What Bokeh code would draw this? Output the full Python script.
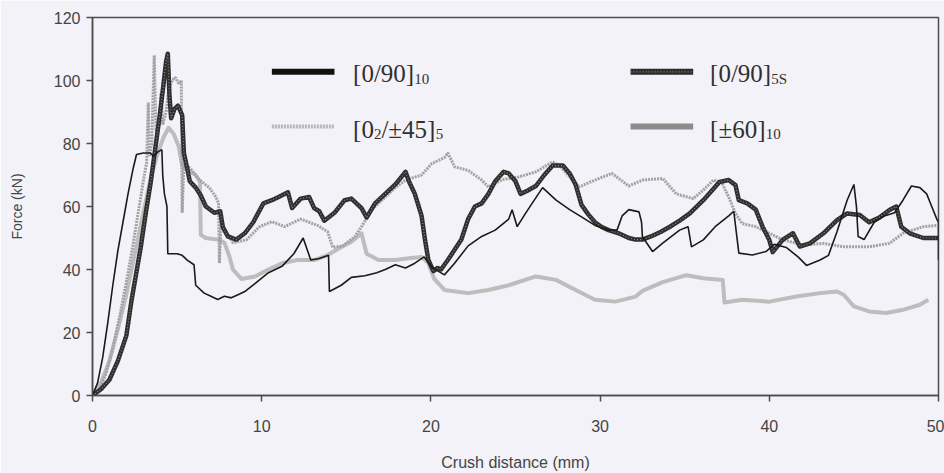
from bokeh.plotting import figure
from bokeh.models import Range1d, Label, FixedTicker
from bokeh.embed import file_html
from bokeh.resources import INLINE

# ---- crush test data: crush distance (mm) vs force (kN) ----
# [0/90]10
x_a = [0, 0.3, 0.6, 0.9, 1.2, 1.5, 1.8, 2.1, 2.4, 2.6, 3.0, 3.4, 3.6, 3.9, 4.1, 4.15, 4.25,
       4.4, 4.45, 5.0, 5.3, 5.6, 6.0, 6.1, 6.6, 7.0, 7.4, 7.8, 8.2, 8.6, 9.0, 9.6, 10.4, 11.2,
       11.9, 12.45, 12.9, 13.4, 13.95, 14.0, 14.7, 15.3, 16.1, 16.8, 17.3, 17.9, 18.5, 19.05,
       19.6, 20.1, 20.8, 21.4, 22.2, 23.0, 23.8, 24.6, 24.8, 25.1, 25.6, 26.6, 27.4, 28.2,
       28.9, 29.7, 30.5, 31.0, 31.3, 31.7, 32.3, 32.45, 32.5, 33.1, 33.7, 34.7, 35.2, 35.4,
       36.1, 36.8, 37.6, 37.9, 38.2, 39.0, 39.8, 40.3, 41.0, 41.7, 42.2, 43.0, 43.5, 44.0,
       44.6, 45.0, 45.15, 45.25, 45.6, 46.2, 46.8, 47.4, 47.9, 48.4, 48.9, 49.3, 49.6, 49.9,
       50.0, 50.0]
f_a = [0, 4, 12, 23, 35, 46, 55, 64, 72, 76.5, 77, 77, 76, 77.5, 78, 70, 64,
       60, 45, 45, 44.5, 43, 41.5, 35, 32.5, 31.5, 30.5, 31.5, 31, 32, 33, 35.5, 39, 41,
       45, 50, 43, 43.5, 44.5, 33, 35, 37.5, 38, 39, 40, 41.5, 40.5, 42,
       44, 40.5, 38.3, 42, 47.5, 50.5, 52.5, 56, 59, 53.6, 57.9, 66, 62, 59,
       56.7, 54, 52.5, 52.5, 57, 59, 58.3, 55, 50.4, 45.7, 48.4, 52.5, 53.6, 47.2,
       49.4, 53.6, 57, 58.5, 45.2, 44.6, 45.7, 48, 47, 44, 41.3, 43, 44.5, 52,
       62, 67, 60, 50.5, 49.5, 55, 57, 58, 62, 66.5, 66, 64, 60, 56,
       55, 43]

# [0/90]5S
x_b = [0, 0.5, 1.0, 1.5, 2.0, 2.3, 2.85, 3.15, 3.45, 3.75, 4.0, 4.2, 4.35, 4.45, 4.55, 4.65,
       4.85, 5.05, 5.3, 5.4, 5.6, 5.75, 6.1, 6.4, 6.7, 7.2, 7.55, 7.7, 8.0, 8.5, 9.0, 9.5,
       10.1, 10.6, 11.0, 11.55, 11.8, 12.3, 12.8, 13.1, 13.4, 13.7, 14.3, 14.9, 15.3, 15.9,
       16.2, 16.7, 17.3, 17.9, 18.5, 18.7, 19.05, 19.45, 19.65, 19.85, 20.15, 20.4, 20.6,
       21.0, 21.8, 22.2, 22.6, 23.0, 23.4, 23.8, 24.3, 24.6, 25.0, 25.3, 25.7, 26.2, 26.7,
       27.2, 27.8, 28.2, 28.55, 28.9, 29.3, 29.7, 30.1, 30.5, 31.1, 31.7, 32.1, 32.5, 33.0,
       33.6, 34.1, 34.7, 35.3, 36.1, 36.6, 37.05, 37.6, 38.0, 38.2, 38.7, 39.2, 39.6, 40.0,
       40.2, 40.5, 40.8, 41.4, 41.8, 42.4, 43.2, 44.0, 44.6, 45.35, 45.9, 46.5, 47.1, 47.5,
       47.8, 48.3, 49.1, 50.0]
f_b = [0, 2, 5, 11, 19, 30, 47, 58, 68, 80, 90, 99, 106, 108.5, 95, 88,
       91, 92, 89, 77, 72, 68, 66, 63.5, 60, 58, 58.5, 53.5, 50.5, 49.5, 51.5, 55,
       61, 62, 63, 64.5, 59.5, 62.5, 63, 59.5, 58.5, 55.5, 58, 62, 62.5, 59.5,
       56.5, 61, 64, 67, 71, 68, 64, 57, 49.5, 43, 39.5, 40.5, 40,
       43, 49.5, 56, 60, 61, 64, 68, 71, 70.5, 68, 64, 65, 66.5, 70,
       73, 73, 70.5, 67, 60.5, 57.5, 55, 53.5, 52.5, 51.5, 50, 49.5, 49.5, 50.5,
       52, 53.5, 55.5, 57.8, 62, 65, 67.8, 68.4, 66.8, 62, 61, 59, 53.6, 49.4,
       45.5, 47.5, 49.5, 51.5, 47.3, 48.3, 51.5, 55.7, 57.8, 57.3, 55, 56.5, 58.9, 60,
       53.6, 51.5, 50, 50]

# [0_2/±45]5
x_c = [0, 0.4, 0.8, 1.2, 1.6, 2.0, 2.4, 2.7, 3.0, 3.2, 3.3, 3.35, 3.5, 3.65, 3.75, 3.95,
       4.05, 4.15, 4.35, 4.5, 4.7, 4.9, 5.1, 5.25, 5.3, 5.4, 5.8, 6.2, 6.9, 7.3, 7.45, 7.5,
       7.6, 7.9, 8.3, 9.1, 9.85, 10.6, 11.35, 12.3, 13.3, 13.9, 14.2, 14.8, 15.5, 15.9,
       16.5, 17.3, 17.9, 18.5, 19.45, 20.05, 20.8, 21.0, 21.4, 22.2, 23.0, 23.4, 24.2,
       25.2, 26.2, 27.2, 27.6, 28.75, 29.7, 30.7, 31.7, 32.5, 33.7, 34.5, 35.5, 36.1, 36.7,
       37.2, 37.6, 38.0, 38.4, 39.2, 40.0, 40.8, 42.0, 43.2, 44.4, 45.9, 47.1, 47.9, 49.1,
       49.9]
f_c = [0, 2, 7, 15, 25, 36, 48, 58, 68, 74, 93, 76, 80, 108, 84, 86,
       96, 86, 90, 97, 100, 101, 99, 100, 58, 74, 72, 69, 66, 63, 61, 42,
       55, 52, 48.5, 49.4, 53.5, 55.2, 53.6, 56, 54, 52, 47, 47.5, 50.4, 53.6,
       59, 63, 66, 68.4, 70, 73.6, 75.5, 77, 72.6, 71.5, 68.4, 66.2, 68.5,
       69.4, 71, 74.2, 73, 66.2, 68.4, 70.5, 66.5, 68.4, 68.9, 64, 62.5, 65.2, 68.4,
       67.5, 63, 57.8, 54.6, 53.6, 51.5, 49.4, 47.8, 48.3, 47.2, 47.2, 48.3, 51.5, 53.6,
       54]

# [±60]10
x_d = [0, 0.5, 1.0, 1.5, 2.0, 2.5, 3.0, 3.4, 3.8, 4.2, 4.5, 4.8, 5.1, 5.3, 5.8, 6.1,
       6.35, 6.4, 6.7, 7.5, 7.8, 8.1, 8.3, 8.8, 9.6, 10.4, 11.2, 12.1, 13.1, 13.9, 14.5,
       15.3, 15.9, 16.2, 16.9, 17.9, 18.7, 19.45, 19.85, 20.2, 20.8, 22.2, 23.4, 24.6,
       26.2, 27.4, 28.55, 29.7, 30.9, 32.1, 32.5, 33.7, 35.1, 36.1, 37.25, 37.35, 38.4,
       40.0, 41.6, 43.0, 44.0, 44.4, 45.0, 45.9, 46.9, 47.9, 48.9, 49.4]
f_d = [0, 4, 11, 21, 32, 45, 58, 68, 76, 82, 85, 83, 79, 73, 71, 70,
       68, 51, 50, 49.4, 48.5, 44, 40, 37, 37.8, 40, 42, 43, 43, 44.6, 46.5,
       48.8, 51.5, 45, 43, 43, 43.6, 44, 42, 37, 33.5, 32.5, 33.5, 35,
       37.8, 36.7, 33.5, 30.4, 29.8, 31.4, 33.2, 36, 38.2, 37.2, 36.7, 29.5, 30.4,
       29.8, 31.4, 32.5, 33, 32, 28.3, 26.7, 26.2, 27.2, 28.8, 30.4]

x_ticks = [0, 10, 20, 30, 40, 50]
y_ticks = [0, 20, 40, 60, 80, 100, 120]

BG = "#f3f2f8"
AXIS = "#4d4d4d"

p = figure(width=944, height=473, output_backend="svg", toolbar_location=None,
           x_range=Range1d(0, 50), y_range=Range1d(0, 120),
           min_border_left=92, min_border_right=6, min_border_top=17, min_border_bottom=77,
           background_fill_color=BG, border_fill_color=BG,
           outline_line_color=AXIS, outline_line_width=1.5)
p.grid.visible = False

for ax in (p.xaxis[0], p.yaxis[0]):
    ax.axis_line_color = AXIS
    ax.axis_line_width = 1.5
    ax.major_tick_line_color = AXIS
    ax.major_tick_line_width = 1.5
    ax.major_tick_out = 6
    ax.major_tick_in = 0
    ax.minor_tick_line_color = None
    ax.major_label_text_font = "Liberation Sans"
    ax.major_label_text_font_size = "16px"
    ax.major_label_text_color = "#444444"
    ax.axis_label_text_font = "Liberation Sans"
    ax.axis_label_text_font_style = "normal"
    ax.axis_label_text_color = "#444444"

p.xaxis.ticker = FixedTicker(ticks=x_ticks)
p.yaxis.ticker = FixedTicker(ticks=y_ticks)
p.xaxis.axis_label = "Crush distance (mm)"
p.xaxis.axis_label_text_font_size = "16px"
p.xaxis.major_label_standoff = 18
p.xaxis.axis_label_standoff = 19
p.yaxis.axis_label = "Force (kN)"
p.yaxis.axis_label_text_font_size = "14px"
p.yaxis.major_label_standoff = 6
p.yaxis.axis_label_standoff = 26

# curves
p.line(x_d, f_d, line_color="#bdbdbd", line_width=4, line_join="round")
p.line(x_c, f_c, line_color="#a2a2a2", line_width=3, line_dash="2 1")
p.line(x_b, f_b, line_color="#2f2f2f", line_width=4.5, line_join="round")
p.line(x_b, f_b, line_color="#8a8a8a", line_width=1.2, line_dash="1 2")
p.line(x_a, f_a, line_color="#1a1a1a", line_width=1.6)

# ---- legend (hand-built so the subscripts can be drawn) ----
SERIF = "Liberation Serif"
MAIN_PX = 25
SUB_PX = 15
TXT = "#303030"

# swatch positions and text anchors, in axis units
row1_line, row1_text = 102.8, 102.2
row2_line, row2_text = 85.4, 84.5
col1_sw, col1_tx = (10.6, 14.3), 15.4
col2_sw, col2_tx = (31.8, 35.5), 36.5


def swatch(xs, y, **style):
    p.line(list(xs), [y, y], **style)


swatch(col1_sw, row1_line, line_color="#111111", line_width=6)
swatch(col2_sw, row1_line, line_color="#2a2a2a", line_width=6)
swatch(col2_sw, row1_line, line_color="#777777", line_width=2, line_dash="1 2")
swatch(col1_sw, row2_line, line_color="#b5b5b5", line_width=4, line_dash="2 1")
swatch(col2_sw, row2_line, line_color="#8c8c8c", line_width=6)

# glyph advance widths (em) of the serif face
ADV = {"[": 0.333, "]": 0.333, "0": 0.5, "1": 0.5, "2": 0.5, "4": 0.5, "5": 0.5,
       "6": 0.5, "9": 0.5, "/": 0.278, "±": 0.564, "S": 0.556}


def rich(x, y, parts):
    """parts: list of (text, is_subscript)"""
    off = 0.0
    for txt, sub in parts:
        size = SUB_PX if sub else MAIN_PX
        p.add_layout(Label(x=x, y=y, x_offset=off, y_offset=-5 if sub else 0, text=txt,
                           text_font=SERIF, text_font_size=f"{size}px", text_color=TXT,
                           text_baseline="alphabetic", text_align="left"))
        off += sum(ADV.get(c, 0.5) for c in txt) * size


rich(col1_tx, row1_text, [("[0/90]", False), ("10", True)])
rich(col2_tx, row1_text, [("[0/90]", False), ("5S", True)])
rich(col1_tx, row2_text, [("[0", False), ("2", True), ("/±45]", False), ("5", True)])
rich(col2_tx, row2_text, [("[±60]", False), ("10", True)])

open("out.html", "w").write(file_html(p, INLINE))
